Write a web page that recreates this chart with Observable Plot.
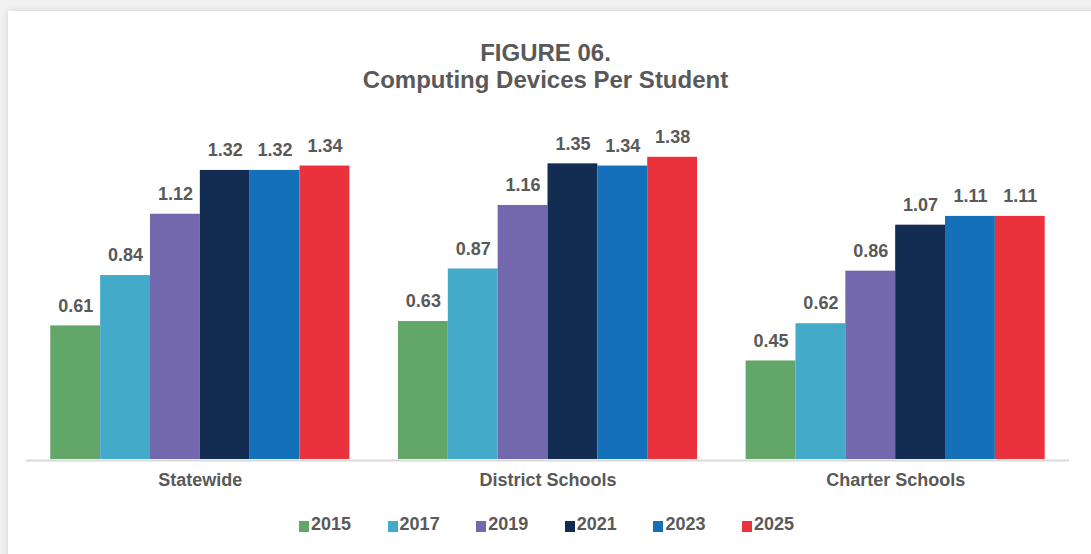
<!DOCTYPE html>
<html>
<head>
<meta charset="utf-8">
<script src="https://cdn.jsdelivr.net/npm/d3@7"></script>
<script src="https://cdn.jsdelivr.net/npm/@observablehq/plot@0.6"></script>
<style>
  html, body { margin: 0; padding: 0; width: 1091px; height: 554px; overflow: hidden; background: #f1f1f1; font-family: "Liberation Sans", Arial, sans-serif; }
  #card { position: absolute; left: 8px; top: 11px; width: 1110px; height: 560px; background: #fff; box-shadow: 0 0 7px rgba(0,0,0,0.12); }
  #title { position: absolute; left: 0; top: 39px; width: 1091px; text-align: center; color: #595959; font-weight: bold; font-size: 24px; line-height: 27px; }
  #chart { position: absolute; left: 0; top: 100px; }
  #legend { position: absolute; left: 299px; top: 512px; display: flex; }
  .item { width: 88.6px; display: flex; align-items: center; color: #595959; font-weight: bold; font-size: 18px; height: 24px; }
  .sw { width: 10px; height: 11px; margin-right: 2px; margin-top: 5px; }
</style>
</head>
<body>
<div id="card"></div>
<div id="title">FIGURE 06.<br>Computing Devices Per Student</div>
<div id="chart"></div>
<div id="legend"></div>
<script>
const categories = ["Statewide", "District Schools", "Charter Schools"];
const years = ["2015", "2017", "2019", "2021", "2023", "2025"];
const statewide = [0.61, 0.84, 1.12, 1.32, 1.32, 1.34];
const district = [0.63, 0.87, 1.16, 1.35, 1.34, 1.38];
const charter = [0.45, 0.62, 0.86, 1.07, 1.11, 1.11];
const colors = ["#62A66A", "#43ABC9", "#7368AD", "#132C52", "#1370B9", "#E9323C"];

const series = [statewide, district, charter];
const data = [];
categories.forEach((cat, i) => {
  years.forEach((yr, j) => data.push({cat, year: yr, value: series[i][j]}));
});

const chart = Plot.plot({
  width: 1091,
  height: 400,
  marginLeft: 26,
  marginRight: 22,
  marginTop: 30.5,
  marginBottom: 41,
  style: {fontFamily: "Liberation Sans, Arial, sans-serif", background: "transparent", overflow: "visible"},
  fx: {domain: categories, padding: 0, round: false, label: null, axis: null},
  x: {domain: years, paddingInner: 0, paddingOuter: 0.487, round: false, axis: null},
  y: {domain: [0, 1.5], axis: null},
  color: {domain: years, range: colors},
  marks: [
    Plot.barY(data, {fx: "cat", x: "year", y: "value", fill: "year"}),
    Plot.ruleY([0], {stroke: "#d9d9d9", strokeWidth: 2, dy: 1}),
    Plot.text(data, {fx: "cat", x: "year", y: "value", text: d => d.value.toFixed(2), dy: -20, fontSize: 18, fontWeight: "bold", fill: "#595959"}),
    Plot.axisFx({anchor: "bottom", tickSize: 0, tickPadding: 14, fontSize: 18, fontWeight: "bold", fill: "#595959", label: null})
  ]
});
document.getElementById("chart").appendChild(chart);

const legend = document.getElementById("legend");
years.forEach((yr, j) => {
  const it = document.createElement("div");
  it.className = "item";
  const sw = document.createElement("div");
  sw.className = "sw";
  sw.style.background = colors[j];
  const t = document.createElement("span");
  t.textContent = yr;
  it.appendChild(sw);
  it.appendChild(t);
  legend.appendChild(it);
});
</script>
</body>
</html>
